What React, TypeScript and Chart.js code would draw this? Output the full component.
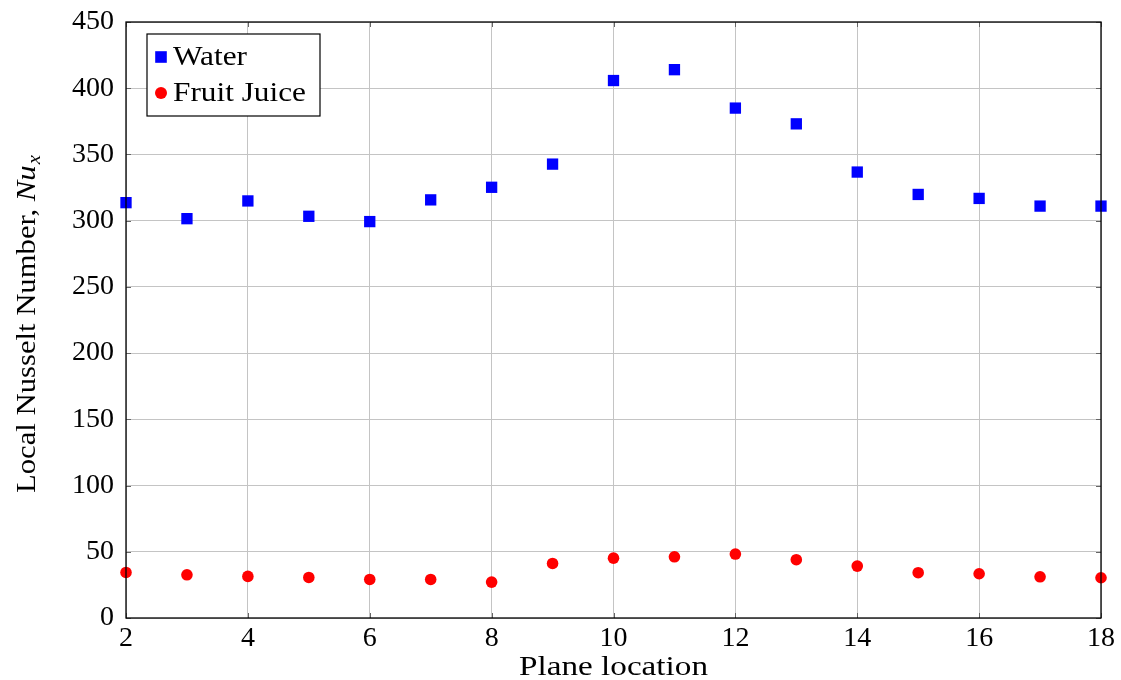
import React, { useEffect, useRef } from "react";
import { Chart, registerables } from "chart.js";

Chart.register(...registerables);

const planeLocations = [2, 3, 4, 5, 6, 7, 8, 9, 10, 11, 12, 13, 14, 15, 16, 17, 18];
const waterNu = [313.6, 301.5, 314.9, 303.3, 299.3, 315.7, 325.2, 342.7, 405.8, 414, 385, 373.1, 336.7, 319.8, 316.8, 311, 311];
const juiceNu = [34.4, 32.6, 31.4, 30.6, 29.1, 29.1, 27.1, 41.2, 45.2, 46.2, 48.3, 44, 39.2, 34.2, 33.4, 31.1, 30.4];
const xTicks = [2, 4, 6, 8, 10, 12, 14, 16, 18];
const yTicks = [0, 50, 100, 150, 200, 250, 300, 350, 400, 450];
const seriesNames = ["Water", "Fruit Juice"];
const xTitle = "Plane location";
const yTitleMain = "Local Nusselt Number, ";
const yTitleSym = "Nu";
const yTitleSub = "x";

const FONT = "'Liberation Serif', 'DejaVu Serif', serif";
const W = 1121;
const H = 680;

// draw text stretched horizontally to a target width (mimics wider Computer Modern)
function stretchText(ctx: CanvasRenderingContext2D, text: string, x: number, y: number, targetW: number) {
  const w = ctx.measureText(text).width;
  const s = targetW / w;
  ctx.save();
  ctx.translate(x, y);
  ctx.scale(s, 1);
  ctx.textAlign = "left";
  ctx.fillText(text, 0, 0);
  ctx.restore();
}

const framePlugin = {
  id: "frame",
  afterDraw(chart: any) {
    const { ctx, chartArea } = chart;
    const { left, right, top, bottom } = chartArea;
    const xs = chart.scales.x;
    const ys = chart.scales.y;
    ctx.save();
    // inward tick marks
    ctx.strokeStyle = "#666666";
    ctx.lineWidth = 1;
    const tl = 5;
    ctx.beginPath();
    xTicks.forEach((v) => {
      const px = Math.round(xs.getPixelForValue(v)) + 0.5;
      ctx.moveTo(px, bottom);
      ctx.lineTo(px, bottom - tl);
      ctx.moveTo(px, top);
      ctx.lineTo(px, top + tl);
    });
    yTicks.forEach((v) => {
      const py = Math.round(ys.getPixelForValue(v)) + 0.5;
      ctx.moveTo(left, py);
      ctx.lineTo(left + tl, py);
      ctx.moveTo(right, py);
      ctx.lineTo(right - tl, py);
    });
    ctx.stroke();
    // frame
    ctx.strokeStyle = "#000000";
    ctx.lineWidth = 1.3;
    ctx.strokeRect(left, top, right - left, bottom - top);

    // x title
    ctx.fillStyle = "#000";
    ctx.font = `28px ${FONT}`;
    ctx.textBaseline = "alphabetic";
    const xtw = 189;
    stretchText(ctx, xTitle, (left + right) / 2 - xtw / 2, 675, xtw);

    // y title (rotated)
    ctx.save();
    ctx.translate(35, (top + bottom) / 2 + 4);
    ctx.rotate(-Math.PI / 2);
    ctx.font = `28px ${FONT}`;
    const w1 = ctx.measureText(yTitleMain).width;
    ctx.font = `italic 28px ${FONT}`;
    const w2 = ctx.measureText(yTitleSym).width;
    ctx.font = `italic 19px ${FONT}`;
    const w3 = ctx.measureText(yTitleSub).width;
    const natural = w1 + w2 + w3 + 1;
    const target = 338;
    const sx = target / natural;
    ctx.scale(sx, 1);
    let cx = -natural / 2;
    ctx.textAlign = "left";
    ctx.font = `28px ${FONT}`;
    ctx.fillText(yTitleMain, cx, 0);
    cx += w1;
    ctx.font = `italic 28px ${FONT}`;
    ctx.fillText(yTitleSym, cx, 0);
    cx += w2 + 1;
    ctx.font = `italic 19px ${FONT}`;
    ctx.fillText(yTitleSub, cx, 5);
    ctx.restore();

    // legend
    const lx = 147, ly = 34, lw = 173, lh = 82;
    ctx.fillStyle = "#ffffff";
    ctx.fillRect(lx, ly, lw, lh);
    ctx.strokeStyle = "#000";
    ctx.lineWidth = 1.2;
    ctx.strokeRect(lx, ly, lw, lh);
    const ds = chart.data.datasets;
    const targets = [74, 133];
    ds.forEach((d: any, i: number) => {
      const cy = ly + 23 + i * 36;
      const mx = lx + 14;
      ctx.fillStyle = d.backgroundColor;
      if (d.pointStyle === "rect") {
        ctx.fillRect(mx - 5.8, cy - 5.8, 11.6, 11.6);
      } else {
        ctx.beginPath();
        ctx.arc(mx, cy, 6, 0, Math.PI * 2);
        ctx.fill();
      }
      ctx.fillStyle = "#000";
      ctx.font = `28px ${FONT}`;
      ctx.textBaseline = "alphabetic";
      stretchText(ctx, d.label, lx + 26, cy + 8, targets[i]);
    });
    ctx.restore();
  },
};

export default function App() {
  const ref = useRef<HTMLCanvasElement | null>(null);
  useEffect(() => {
    document.body.style.margin = "0";
    if (!ref.current) return;
    const chart = new Chart(ref.current, {
      type: "scatter",
      data: {
        datasets: [
          {
            label: seriesNames[0],
            data: planeLocations.map((x, i) => ({ x, y: waterNu[i] })),
            backgroundColor: "#0000ff",
            borderColor: "#0000ff",
            pointStyle: "rect",
            pointRadius: 8,
            pointHoverRadius: 8,
            borderWidth: 0,
            clip: false,
          },
          {
            label: seriesNames[1],
            data: planeLocations.map((x, i) => ({ x, y: juiceNu[i] })),
            backgroundColor: "#ff0000",
            borderColor: "#ff0000",
            pointStyle: "circle",
            pointRadius: 5.8,
            pointHoverRadius: 5.8,
            borderWidth: 0,
            clip: false,
          },
        ],
      },
      options: {
        animation: false,
        responsive: false,
        maintainAspectRatio: false,
        layout: { padding: { top: 22, right: 20, left: 0, bottom: 0 } },
        plugins: { legend: { display: false }, tooltip: { enabled: false } },
        scales: {
          x: {
            type: "linear",
            min: 2,
            max: 18,
            afterBuildTicks: (s: any) => {
              s.ticks = xTicks.map((v) => ({ value: v }));
            },
            afterFit: (s: any) => {
              s.height = 62;
              s.paddingLeft = 0;
              s.paddingRight = 0;
              s.paddingTop = 0;
              s.paddingBottom = 0;
            },
            grid: { color: "#c4c4c4", lineWidth: 1, tickLength: 0, drawTicks: false },
            border: { display: false },
            ticks: {
              color: "#000",
              font: { family: FONT, size: 28 },
              padding: 4,
              maxRotation: 0,
              autoSkip: false,
            },
          },
          y: {
            type: "linear",
            min: 0,
            max: 450,
            afterBuildTicks: (s: any) => {
              s.ticks = yTicks.map((v) => ({ value: v }));
            },
            afterFit: (s: any) => {
              s.width = 126;
              s.paddingLeft = 0;
              s.paddingRight = 0;
              s.paddingTop = 0;
              s.paddingBottom = 0;
            },
            grid: { color: "#c4c4c4", lineWidth: 1, tickLength: 0, drawTicks: false },
            border: { display: false },
            ticks: {
              color: "#000",
              font: { family: FONT, size: 28 },
              padding: 12,
              autoSkip: false,
            },
          },
        },
      },
      plugins: [framePlugin],
    });
    return () => chart.destroy();
  }, []);
  return (
    <div style={{ width: W, height: H }}>
      <canvas ref={ref} width={W} height={H} style={{ display: "block", width: W, height: H }} />
    </div>
  );
}
